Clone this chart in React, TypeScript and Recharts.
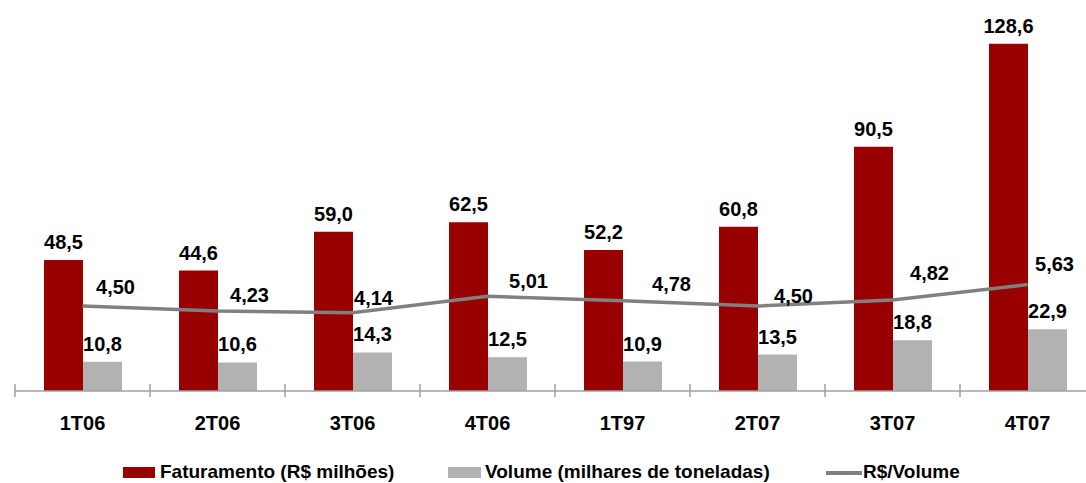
import React from 'react';
import { ComposedChart, Bar, Line, XAxis, YAxis, Legend, LabelList } from 'recharts';

const categories = ['1T06', '2T06', '3T06', '4T06', '1T97', '2T07', '3T07', '4T07'];
const faturamento = [48.5, 44.6, 59.0, 62.5, 52.2, 60.8, 90.5, 128.6];
const volume = [10.8, 10.6, 14.3, 12.5, 10.9, 13.5, 18.8, 22.9];
const rsVolume = [4.5, 4.23, 4.14, 5.01, 4.78, 4.5, 4.82, 5.63];

// label nudges for the R$/Volume labels (dx, dy relative to the point)
const lineLabelNudge: [number, number][] = [
  [33, -12], [32, -9], [21, -8], [41, -8], [49, -10], [36, -3], [37, -20], [27, -14],
];

const data = categories.map((c, i) => ({
  cat: c,
  fat: faturamento[i],
  vol: volume[i],
  rsv: rsVolume[i],
}));

const RED = '#990000';
const GRAY = '#b2b2b2';
const LINE = '#808080';
const AXIS = '#a0a0a0';
const FONT = '"Liberation Sans", Arial, Helvetica, sans-serif';
const BAND = 135;

const fmt1 = (v: any) => Number(v).toFixed(1).replace('.', ',');
const fmt2 = (v: any) => Number(v).toFixed(2).replace('.', ',');

const CategoryTick = (props: any) => {
  const { x, y, payload } = props;
  return (
    <g>
      <line x1={x - BAND / 2} x2={x - BAND / 2} y1={y - 7} y2={y + 6} stroke={AXIS} strokeWidth={1.5} />
      <text x={x} y={y + 39} textAnchor="middle" fontFamily={FONT} fontWeight="bold" fontSize={20} fill="#000">
        {payload.value}
      </text>
    </g>
  );
};

const LineLabel = (props: any) => {
  const { value, index } = props;
  const x = props.x ?? props.viewBox?.x;
  const y = props.y ?? props.viewBox?.y;
  const n = lineLabelNudge[index] || [35, -11];
  return (
    <text x={x + n[0]} y={y + n[1]} textAnchor="middle" fontFamily={FONT} fontWeight="bold" fontSize={20} fill="#000">
      {fmt2(value)}
    </text>
  );
};

const renderLegend = () => {
  const txt: React.CSSProperties = {
    position: 'absolute',
    top: 0,
    fontFamily: FONT,
    fontWeight: 'bold',
    fontSize: 19,
    lineHeight: '20px',
    whiteSpace: 'nowrap',
    color: '#000',
  };
  return (
    <div style={{ position: 'relative', width: 1086, height: 20 }}>
      <div style={{ position: 'absolute', left: 123, top: 5, width: 32, height: 11, background: RED }} />
      <div style={{ ...txt, left: 160 }}>Faturamento (R$ milhões)</div>
      <div style={{ position: 'absolute', left: 448, top: 5, width: 33, height: 11, background: GRAY }} />
      <div style={{ ...txt, left: 485 }}>Volume (milhares de toneladas)</div>
      <div style={{ position: 'absolute', left: 826, top: 9, width: 36, height: 4, background: LINE }} />
      <div style={{ ...txt, left: 863 }}>R$/Volume</div>
    </div>
  );
};

export default function App() {
  return (
    <div style={{ width: 1086, height: 483, overflow: 'hidden', position: 'relative' }}>
      <style>{`body{margin:0;overflow:hidden;}`}</style>
      <ComposedChart
        width={1100}
        height={483}
        data={data}
        margin={{ top: 13, right: 5, left: 15, bottom: 22 }}
        barGap={0}
      >
        <XAxis
          dataKey="cat"
          xAxisId={0}
          height={50}
          interval={0}
          tickLine={false}
          tickSize={0}
          tickMargin={0}
          axisLine={{ stroke: AXIS, strokeWidth: 1.5 }}
          tick={<CategoryTick />}
        />
        <YAxis yAxisId="left" domain={[0, 140]} hide />
        <YAxis yAxisId="right" orientation="right" domain={[0, 20]} hide />
        <Bar yAxisId="left" dataKey="fat" fill={RED} barSize={39} isAnimationActive={false} name="Faturamento (R$ milhões)">
          <LabelList dataKey="fat" position="top" offset={11} formatter={fmt1}
            style={{ fontFamily: FONT, fontWeight: 'bold', fontSize: 20, fill: '#000' }} />
        </Bar>
        <Bar yAxisId="left" dataKey="vol" fill={GRAY} barSize={39} isAnimationActive={false} name="Volume (milhares de toneladas)">
          <LabelList dataKey="vol" position="top" offset={11} formatter={fmt1}
            style={{ fontFamily: FONT, fontWeight: 'bold', fontSize: 20, fill: '#000' }} />
        </Bar>
        <Line yAxisId="right" dataKey="rsv" stroke={LINE} strokeWidth={3.5} dot={false} activeDot={false}
          isAnimationActive={false} name="R$/Volume">
          <LabelList dataKey="rsv" content={<LineLabel />} />
        </Line>
        <Legend verticalAlign="bottom" content={renderLegend}
          wrapperStyle={{ position: 'absolute', left: 0, top: 462, width: 1086, height: 20 }} />
      </ComposedChart>
    </div>
  );
}
